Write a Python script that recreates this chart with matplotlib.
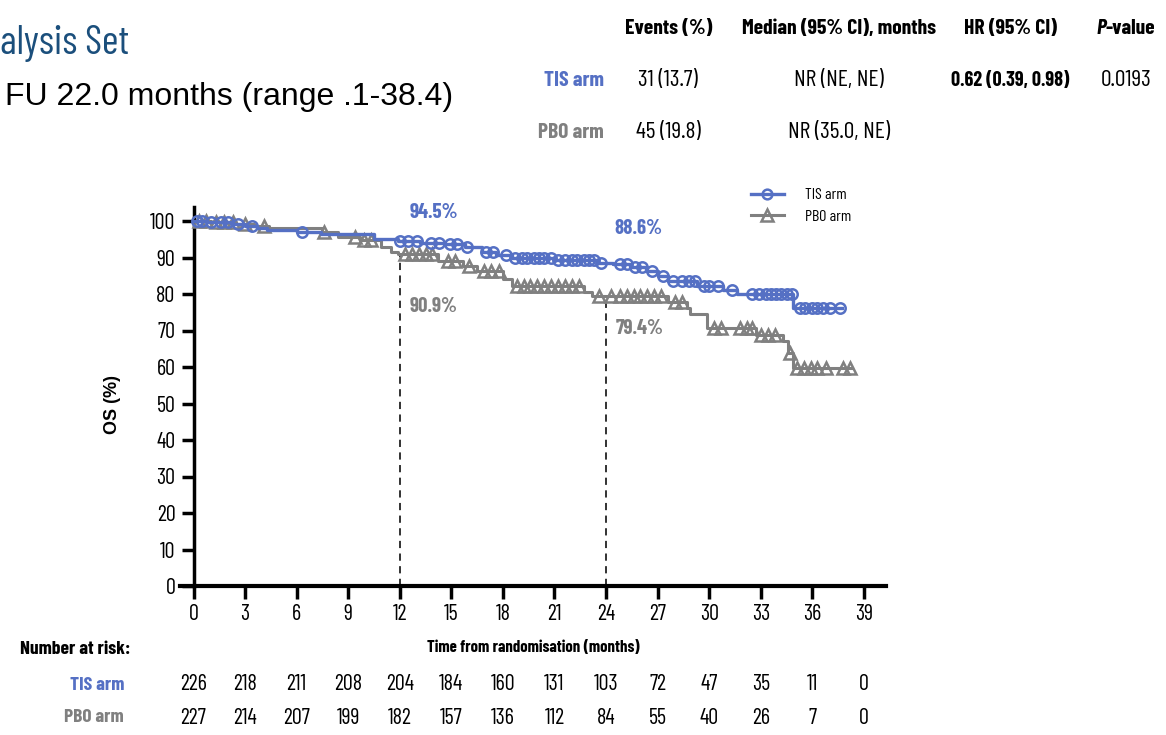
import numpy as np
import matplotlib
matplotlib.use('Agg')
import matplotlib.pyplot as plt
from matplotlib.lines import Line2D

NARROW = ['Barlow Condensed', 'DejaVu Sans']
WIDE = ['Liberation Sans', 'DejaVu Sans']

# ---------------- data ----------------
x_ticks = list(range(0, 40, 3))
y_ticks = list(range(0, 101, 10))

tis_event_t = [0.8, 2.2, 3.0, 3.7, 4.3, 6.0, 7.4, 10.5, 11.9, 13.2, 14.6, 15.8, 16.8, 17.6,
               18.5, 21.0, 23.5, 24.4, 25.4, 26.3, 27.0, 27.6, 29.3, 30.8, 31.6, 34.9]
tis_event_s = [99.6, 99.1, 98.7, 98.2, 97.6, 97.1, 96.4, 95.1, 94.5, 94.0, 93.6, 93.0, 91.5, 90.8,
               89.8, 89.2, 88.6, 88.1, 87.4, 86.3, 84.9, 83.5, 82.1, 81.0, 80.0, 76.2]
tis_censor_t = [0.2, 0.5, 1.0, 1.6, 2.0, 2.6, 3.4, 6.3, 12.0, 12.5, 13.0, 13.8, 14.3, 14.9,
                15.3, 15.9, 17.0, 17.4, 18.2, 18.7, 19.1, 19.4, 19.8, 20.1, 20.4, 20.8, 21.2,
                21.6, 22.0, 22.3, 22.7, 23.0, 23.3, 23.7, 24.8, 25.2, 25.7, 26.1, 26.7, 27.3,
                27.9, 28.4, 28.8, 29.2, 29.7, 30.0, 30.5, 31.3, 32.5, 32.9, 33.3, 33.6, 33.9,
                34.2, 34.5, 34.8, 35.3, 35.6, 36.0, 36.3, 36.6, 37.0, 37.6]
tis_end = 37.7

pbo_event_t = [1.0, 2.5, 3.5, 4.4, 7.5, 8.4, 9.7, 10.9, 11.5, 11.9, 14.2, 15.7, 16.5, 18.0, 18.5,
               22.7, 23.2, 27.6, 28.7, 28.9, 29.9, 32.7, 34.3, 34.6, 34.9]
pbo_event_s = [99.6, 99.1, 98.7, 98.2, 96.9, 95.6, 94.9, 92.9, 91.5, 90.9, 89.1, 87.6, 86.2, 84.0,
               82.1, 80.5, 79.4, 77.8, 76.3, 74.6, 70.8, 68.8, 67.0, 63.8, 59.7]
pbo_censor_t = [0.3, 0.7, 1.3, 1.8, 2.3, 3.0, 4.1, 7.6, 9.4, 9.9, 10.3, 12.3, 12.7, 13.1, 13.5,
                13.9, 14.8, 15.2, 16.0, 16.9, 17.3, 17.8, 18.8, 19.2, 19.6, 20.0, 20.4, 20.8,
                21.2, 21.6, 22.0, 22.4, 23.6, 24.3, 24.8, 25.2, 25.6, 26.0, 26.4, 26.8, 27.2,
                28.0, 28.4, 30.3, 30.7, 31.8, 32.2, 32.5, 33.0, 33.4, 33.8, 34.7, 35.1, 35.5,
                35.9, 36.3, 36.8, 37.8, 38.2]
pbo_end = 38.3

risk_tis = [226, 218, 211, 208, 204, 184, 160, 131, 103, 72, 47, 35, 11, 0]
risk_pbo = [227, 214, 207, 199, 182, 157, 136, 112, 84, 55, 40, 26, 7, 0]

landmarks = [12, 24]
tis_landmark_lbl = ['94.5%', '88.6%']
pbo_landmark_lbl = ['90.9%', '79.4%']

arms = ['TIS arm', 'PBO arm']
events = ['31 (13.7)', '45 (19.8)']
medians = ['NR (NE, NE)', 'NR (35.0, NE)']
hr_text = '0.62 (0.39, 0.98)'
p_text = '0.0193'

BLUE = '#5570c4'
GREY = '#808080'
TITLE_BLUE = '#1b4f7c'

W, H = 1166, 735
fig = plt.figure(figsize=(W / 100, H / 100), dpi=100)


def fx(px):
    return px / W


def fy(py):
    return 1 - py / H


def px2x(px):
    return (px - 193.5) / 17.19


def py2y(py):
    return (586 - py) / 3.65


ax = fig.add_axes([fx(180), fy(586), fx(886) - fx(180), fy(207) - fy(586)])
ax.set_xlim(px2x(180), px2x(886))
ax.set_ylim(0, py2y(207))


def step_arrays(et, es, end):
    t = np.array([0.0] + et + [end])
    s = np.array([100.0] + es + [es[-1]])
    return t, s


def surv_at(tq, t, s):
    idx = np.searchsorted(t, np.asarray(tq), side='right') - 1
    return s[idx]


tt, ts = step_arrays(tis_event_t, tis_event_s, tis_end)
pt, ps = step_arrays(pbo_event_t, pbo_event_s, pbo_end)

ax.plot(pt, ps, drawstyle='steps-post', color=GREY, lw=2.2, zorder=3, clip_on=False)
ax.plot(pbo_censor_t, surv_at(pbo_censor_t, pt, ps), ls='none', marker='^', ms=8,
        mfc='none', mec=GREY, mew=1.8, zorder=3, clip_on=False)
ax.plot(tt, ts, drawstyle='steps-post', color=BLUE, lw=2.4, zorder=4, clip_on=False)
ax.plot(tis_censor_t, surv_at(tis_censor_t, tt, ts), ls='none', marker='o', ms=7.5,
        mfc='none', mec=BLUE, mew=1.8, zorder=4, clip_on=False)

# landmark dashed lines
for lm in landmarks:
    ax.plot([lm, lm], [0, surv_at(lm, pt, ps)], ls=(0, (4, 3)), color='#222222', lw=1.3, zorder=2)

ann_font = dict(family=NARROW, fontsize=15, fontweight='bold', ha='center', va='center')
ax.text(px2x(434), py2y(213), tis_landmark_lbl[0], color=BLUE, **ann_font)
ax.text(px2x(434), py2y(306), pbo_landmark_lbl[0], color=GREY, **ann_font)
ax.text(px2x(638), py2y(229), tis_landmark_lbl[1], color=BLUE, **ann_font)
ax.text(px2x(640), py2y(328), pbo_landmark_lbl[1], color=GREY, **ann_font)

# spines / ticks
for sp in ['top', 'right']:
    ax.spines[sp].set_visible(False)
ax.spines['left'].set_position(('data', 0))
ax.spines['left'].set_linewidth(2.5)
ax.spines['bottom'].set_linewidth(3)
ax.set_xticks(x_ticks)
ax.set_yticks(y_ticks)
ax.tick_params(axis='both', direction='out', length=9, width=2.5, labelsize=16, pad=4)
for lbl in ax.get_xticklabels() + ax.get_yticklabels():
    lbl.set_family(NARROW)
ax.set_ylabel('OS (%)', family=WIDE, fontweight='bold', fontsize=13)
ax.yaxis.set_label_coords((121 - 180) / (886 - 180), 0.48)
ax.set_xlabel('Time from randomisation (months)', family=NARROW, fontweight='bold', fontsize=12,
              labelpad=11)

# legend
handles = [Line2D([], [], color=BLUE, lw=2.4, marker='o', ms=7, mfc='none', mec=BLUE, mew=1.8),
           Line2D([], [], color=GREY, lw=2.2, marker='^', ms=8, mfc='none', mec=GREY, mew=1.8)]
fig.legend(handles, arms, loc='center', bbox_to_anchor=(fx(801), fy(206)), frameon=False,
           prop=dict(family=NARROW, size=11.5), handlelength=2.1, labelspacing=0.45,
           handletextpad=1.3)

# number at risk
rk = dict(family=NARROW, fontsize=14, fontweight='bold', va='center')
fig.text(fx(20), fy(650), 'Number at risk:', ha='left', **rk)
fig.text(fx(124), fy(685), arms[0], color=BLUE, ha='right', **rk)
fig.text(fx(124), fy(718), arms[1], color=GREY, ha='right', **rk)
for xt, a, b in zip(x_ticks, risk_tis, risk_pbo):
    ax.annotate(str(a), xy=(xt, 0), xycoords=('data', 'axes fraction'), xytext=(0, fy(685)),
                textcoords=('offset points', 'figure fraction'), ha='center', va='center',
                family=NARROW, fontsize=16)
    ax.annotate(str(b), xy=(xt, 0), xycoords=('data', 'axes fraction'), xytext=(0, fy(718)),
                textcoords=('offset points', 'figure fraction'), ha='center', va='center',
                family=NARROW, fontsize=16)

# title and header table
fig.text(0, fy(44), 'alysis Set', family=NARROW, fontsize=29, color=TITLE_BLUE, ha='left',
         va='center')
fig.text(fx(5), fy(97), 'FU 22.0 months (range .1-38.4)', family=WIDE, fontsize=23, ha='left',
         va='center')

hdr = dict(family=NARROW, fontsize=15.5, fontweight='bold', va='center')
fig.text(fx(669), fy(28), 'Events (%)', ha='center', **hdr)
fig.text(fx(839), fy(28), 'Median (95% CI), months', ha='center', **hdr)
fig.text(fx(1010), fy(28), 'HR (95% CI)', ha='center', **hdr)
fig.text(fx(1106), fy(28), 'P', ha='right', style='italic', **hdr)
fig.text(fx(1106), fy(28), '-value', ha='left', **hdr)

row = dict(family=NARROW, fontsize=17, va='center', ha='center')
for i, yy in enumerate([80, 133]):
    fig.text(fx(604), fy(yy), arms[i], family=NARROW, fontsize=15.5, fontweight='bold',
             color=[BLUE, GREY][i], ha='right', va='center')
    fig.text(fx(668), fy(yy), events[i], **row)
    fig.text(fx(839), fy(yy), medians[i], **row)
fig.text(fx(1010), fy(80), hr_text, family=NARROW, fontsize=14.5, fontweight='bold', ha='center',
         va='center')
fig.text(fx(1126), fy(80), p_text, **row)

fig.savefig('out.png', dpi=100)
